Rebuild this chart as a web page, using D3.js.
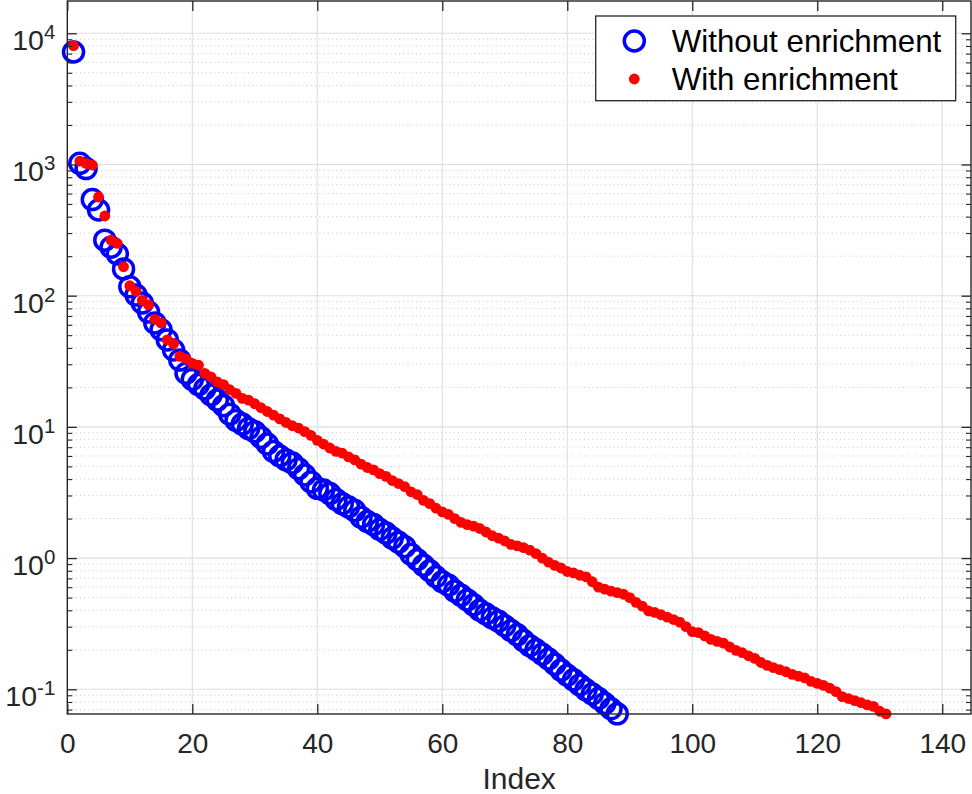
<!DOCTYPE html>
<html><head><meta charset="utf-8">
<script src="https://cdn.jsdelivr.net/npm/d3@7"></script>
<style>body{margin:0;background:#fff}</style>
</head><body>
<svg id="chart" width="972" height="794"></svg>
<script>
// ---- data (index = position + 1) ----
const seriesNames = ["Without enrichment", "With enrichment"];
const withoutEnrichment = [
  7200, 1020, 930, 540, 450, 265, 234, 208, 160, 117,
  101, 88, 75, 62, 55, 46, 38.5, 32.3, 25.6, 23,
  21, 19.5, 17.5, 16, 14.5, 12.5, 11.2, 10.5, 9.7, 9.2,
  8.3, 7.4, 6.5, 6.0, 5.6, 5.3, 4.8, 4.3, 3.8, 3.4,
  3.3, 3.1, 2.8, 2.6, 2.45, 2.3, 2.05, 1.9, 1.8, 1.65,
  1.55, 1.42, 1.32, 1.22, 1.07, 0.97, 0.88, 0.80, 0.72, 0.66,
  0.62, 0.56, 0.52, 0.48, 0.44, 0.40, 0.375, 0.35, 0.33, 0.305,
  0.28, 0.26, 0.235, 0.215, 0.20, 0.185, 0.17, 0.155, 0.14, 0.128,
  0.118, 0.108, 0.099, 0.092, 0.085, 0.078, 0.071, 0.065
];
const withEnrichment = [
  8050, 1060, 1020, 990, 565, 405, 265, 250, 166, 119,
  108, 92, 85, 66, 62, 46, 43, 34.5, 33, 30.5,
  29.5, 25.6, 24, 22, 21, 19.2, 18, 16.5, 16, 15,
  14, 13.1, 12.3, 11.5, 10.8, 10.2, 9.8, 9.2, 8.6, 7.9,
  7.4, 6.9, 6.5, 6.3, 5.9, 5.6, 5.2, 4.9, 4.7, 4.4,
  4.2, 3.9, 3.7, 3.5, 3.2, 3.05, 2.75, 2.6, 2.4, 2.25,
  2.15, 2.0, 1.87, 1.8, 1.75, 1.68, 1.58, 1.48, 1.42, 1.35,
  1.27, 1.24, 1.2, 1.15, 1.08, 1.0, 0.93, 0.88, 0.84, 0.79,
  0.77, 0.74, 0.72, 0.66, 0.60, 0.58, 0.56, 0.545, 0.53, 0.50,
  0.46, 0.43, 0.395, 0.385, 0.37, 0.355, 0.34, 0.325, 0.30, 0.275,
  0.27, 0.255, 0.24, 0.232, 0.225, 0.21, 0.198, 0.19, 0.18, 0.172,
  0.16, 0.152, 0.146, 0.141, 0.136, 0.13, 0.126, 0.122, 0.115, 0.111,
  0.107, 0.102, 0.096, 0.088, 0.085, 0.082, 0.079, 0.076, 0.074, 0.068,
  0.065
];
const xTicks = [0, 20, 40, 60, 80, 100, 120, 140];
const yTickExponents = [-1, 0, 1, 2, 3, 4];
const xLabel = "Index";

(function () {
// ---- layout ----
const L = 67.3, R = 971, T = 1, B = 714;
const svg = d3.select("#chart");
const font = "'Liberation Sans', Arial, Helvetica, sans-serif";
const x = d3.scaleLinear().domain([0, 144.6]).range([L, R]);
const y = d3.scaleLog().domain([0.0648, 17620]).range([B, T]);

// minor y values
const [y0, y1] = y.domain();
const minorY = [];
for (let e = -2; e <= 5; e++) for (let m = 2; m <= 9; m++) {
  const v = m * Math.pow(10, e);
  if (v > y0 && v < y1) minorY.push(v);
}
const majorY = yTickExponents.map(e => Math.pow(10, e));

// grid
const grid = svg.append("g");
grid.selectAll(".minor").data(minorY).join("line")
  .attr("x1", L).attr("x2", R).attr("y1", d => y(d)).attr("y2", d => y(d))
  .attr("stroke", "#c4c4c4").attr("stroke-width", 1).attr("stroke-dasharray", "1,3.2");
grid.selectAll(".majy").data(majorY).join("line")
  .attr("x1", L).attr("x2", R).attr("y1", d => y(d)).attr("y2", d => y(d))
  .attr("stroke", "#dedede").attr("stroke-width", 1.1);
grid.selectAll(".majx").data(xTicks.filter(d => d > 0)).join("line")
  .attr("x1", d => x(d)).attr("x2", d => x(d)).attr("y1", T).attr("y2", B)
  .attr("stroke", "#dedede").attr("stroke-width", 1.1);

// data
const plot = svg.append("g");
plot.selectAll(".wo").data(withoutEnrichment).join("circle")
  .attr("cx", (d, i) => x(i + 1)).attr("cy", d => y(d)).attr("r", 10)
  .attr("fill", "none").attr("stroke", "#0000ff").attr("stroke-width", 3.5);
plot.selectAll(".wi").data(withEnrichment).join("circle")
  .attr("cx", (d, i) => x(i + 1)).attr("cy", d => y(d)).attr("r", 5.4)
  .attr("fill", "#ff0000");

// axes
const axisColor = "#262626";
const gBottom = svg.append("g").attr("transform", `translate(0,${B})`)
  .call(d3.axisBottom(x).tickValues(xTicks).tickSizeInner(-10).tickSizeOuter(0).tickPadding(19));
gBottom.select(".domain").remove();
gBottom.selectAll("line").attr("stroke", axisColor).attr("stroke-width", 1.3);
gBottom.selectAll("text").attr("font-family", font).attr("font-size", 28).attr("fill", axisColor);

const gTop = svg.append("g").attr("transform", `translate(0,${T})`)
  .call(d3.axisTop(x).tickValues(xTicks).tickSizeInner(-10).tickSizeOuter(0).tickFormat(""));
gTop.select(".domain").remove();
gTop.selectAll("line").attr("stroke", axisColor).attr("stroke-width", 1.3);

const gLeft = svg.append("g").attr("transform", `translate(${L},0)`)
  .call(d3.axisLeft(y).tickValues(majorY).tickSizeInner(-9.5).tickSizeOuter(0).tickPadding(12).tickFormat(""));
gLeft.select(".domain").remove();
gLeft.selectAll("line").attr("stroke", axisColor).attr("stroke-width", 1.3);
gLeft.selectAll(".tick text").each(function(d) {
  const t = d3.select(this).attr("font-family", font).attr("fill", axisColor)
    .attr("text-anchor", "end").attr("dy", null).attr("y", 16.5);
  t.append("tspan").attr("font-size", 28.5).text("10");
  t.append("tspan").attr("font-size", 20.5).attr("dy", -11).text(String(Math.round(Math.log10(d))));
});
const gLeftMinor = svg.append("g").attr("transform", `translate(${L},0)`)
  .call(d3.axisLeft(y).tickValues(minorY).tickSizeInner(-5).tickSizeOuter(0).tickFormat(""));
gLeftMinor.select(".domain").remove();
gLeftMinor.selectAll("line").attr("stroke", axisColor).attr("stroke-width", 1.1);

const gRight = svg.append("g").attr("transform", `translate(${R},0)`)
  .call(d3.axisRight(y).tickValues(majorY).tickSizeInner(-9.5).tickSizeOuter(0).tickFormat(""));
gRight.select(".domain").remove();
gRight.selectAll("line").attr("stroke", axisColor).attr("stroke-width", 1.3);
const gRightMinor = svg.append("g").attr("transform", `translate(${R},0)`)
  .call(d3.axisRight(y).tickValues(minorY).tickSizeInner(-5).tickSizeOuter(0).tickFormat(""));
gRightMinor.select(".domain").remove();
gRightMinor.selectAll("line").attr("stroke", axisColor).attr("stroke-width", 1.1);

// box
svg.append("rect").attr("x", L).attr("y", T).attr("width", R - L).attr("height", B - T)
  .attr("fill", "none").attr("stroke", axisColor).attr("stroke-width", 1.4);

// x label
svg.append("text").attr("x", (L + R) / 2).attr("y", 789).attr("text-anchor", "middle")
  .attr("font-family", font).attr("font-size", 30).attr("fill", axisColor).text(xLabel);

// legend
const lg = svg.append("g");
lg.append("rect").attr("x", 595.7).attr("y", 16).attr("width", 360).attr("height", 84.7)
  .attr("fill", "#fff").attr("stroke", "#262626").attr("stroke-width", 1.3);
lg.append("circle").attr("cx", 634.3).attr("cy", 41).attr("r", 10)
  .attr("fill", "none").attr("stroke", "#0000ff").attr("stroke-width", 3.5);
lg.append("circle").attr("cx", 634.3).attr("cy", 79).attr("r", 5.4).attr("fill", "#ff0000");
lg.selectAll(".lt").data(seriesNames).join("text")
  .attr("x", 671.7).attr("y", (d, i) => 51.7 + i * 38)
  .attr("font-family", font).attr("font-size", 31.3).attr("fill", "#000").text(d => d);
})();
</script>
</body></html>
